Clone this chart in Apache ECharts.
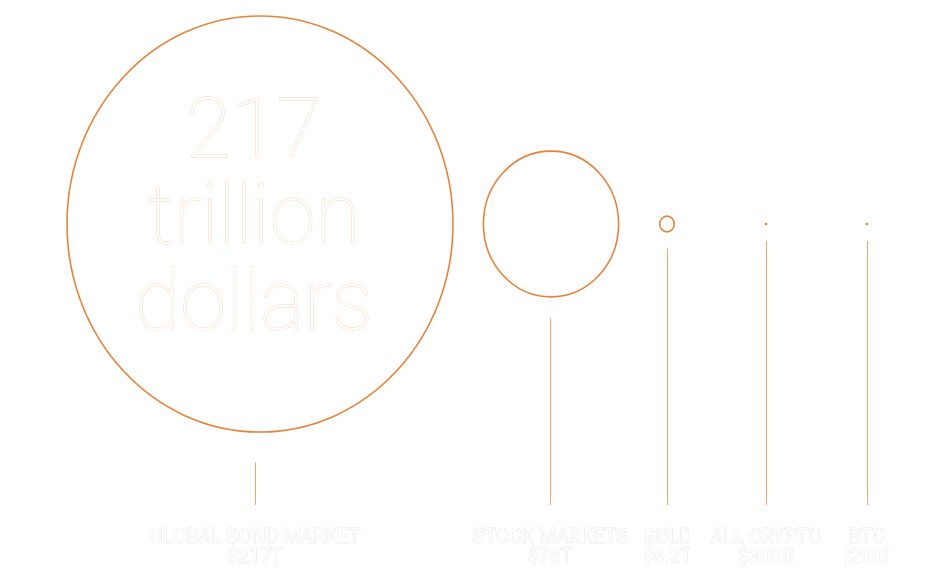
<!DOCTYPE html>
<html>
<head>
<meta charset="utf-8">
<style>
html,body{margin:0;padding:0;background:#fff;}
#chart{width:930px;height:585px;}
</style>
<script src="https://cdn.jsdelivr.net/npm/echarts@6/dist/echarts.min.js"></script>
</head>
<body>
<div id="chart"></div>
<script>
// ---- data ----
var categories = ['GLOBAL BOND MARKET', 'STOCK MARKETS', 'GOLD', 'ALL CRYPTO', 'BTC'];
var valueLabels = ['$217T', '$76T', '$8.2T', '$300B', '$200B'];
var valuesTrillion = [217, 76, 8.2, 0.3, 0.2];
var headline = ['217', 'trillion', 'dollars'];

// ---- layout (not data) ----
var colCenter = [255, 550, 667, 766, 867];
var circleShift = [5, 1, 0, 0, 0];
var colWidth = [386, 156, 46, 112, 45];
var centerY = 224, baseY = 505;
var kx = 386 / 217, ky = 416 / 217; // px of diameter per trillion

var chart = echarts.init(document.getElementById('chart'));

var seriesData = valuesTrillion.map(function (v, i) { return [colCenter[i], centerY, v, i]; });

function renderItem(params, api) {
  var i = api.value(3);
  var v = api.value(2);
  var c = api.coord([api.value(0), api.value(1)]);
  var cc = api.coord([api.value(0) + circleShift[i], api.value(1)]);
  var base = api.coord([api.value(0), baseY]);
  var rx = v * kx / 2, ry = v * ky / 2;
  var children = [];
  if (rx >= 2) {
    children.push({
      type: 'ellipse',
      shape: { cx: cc[0], cy: cc[1], rx: rx, ry: ry },
      style: { fill: 'none', stroke: '#e8823a', lineWidth: 1.6 }
    });
  } else {
    children.push({
      type: 'circle',
      shape: { cx: cc[0], cy: cc[1], r: 1.3 },
      style: { fill: '#e8823a' }
    });
  }
  var top = c[1] + Math.max(ry, 1) * 1.07 + 16;
  children.push({
    type: 'line',
    shape: { x1: Math.round(c[0]) + 0.5, y1: top, x2: Math.round(c[0]) + 0.5, y2: base[1] },
    style: { stroke: '#f2a76c', lineWidth: 1 }
  });
  children.push({
    type: 'text',
    z2: 10,
    style: {
      x: c[0], y: base[1] + 43,
      text: categories[i] + '\n' + valueLabels[i],
      fill: '#ffffff', stroke: '#d6d6d6', lineWidth: 0.6,
      font: '400 19.5px Roboto', lineHeight: 20,
      align: 'center', verticalAlign: 'middle'
    }
  });
  var left = c[0] - colWidth[i] / 2, right = c[0] + colWidth[i] / 2;
  var rightW = (i === categories.length - 1) ? 60 : 12;
  children.push({
    type: 'rect', z2: 20,
    shape: { x: left - 12, y: base[1] + 10, width: 12, height: 75 },
    style: { fill: '#ffffff' }
  });
  children.push({
    type: 'rect', z2: 20,
    shape: { x: right, y: base[1] + 10, width: rightW, height: 75 },
    style: { fill: '#ffffff' }
  });
  return { type: 'group', children: children };
}

chart.setOption({
  backgroundColor: '#ffffff',
  animation: false,
  grid: { left: 0, right: 0, top: 0, bottom: 0 },
  xAxis: { type: 'value', min: 0, max: 930, show: false },
  yAxis: { type: 'value', min: 0, max: 585, inverse: true, show: false },
  graphic: [{
    type: 'text',
    x: 254, y: 93,
    style: {
      text: headline.join('\n'),
      fill: '#ffffff', stroke: '#f8d6b6', lineWidth: 0.9,
      font: '100 83px Roboto', lineHeight: 86,
      align: 'center', verticalAlign: 'top'
    },
    z: 5
  }],
  series: [{
    type: 'custom',
    renderItem: renderItem,
    data: seriesData,
    clip: false
  }]
});
</script>
</body>
</html>
